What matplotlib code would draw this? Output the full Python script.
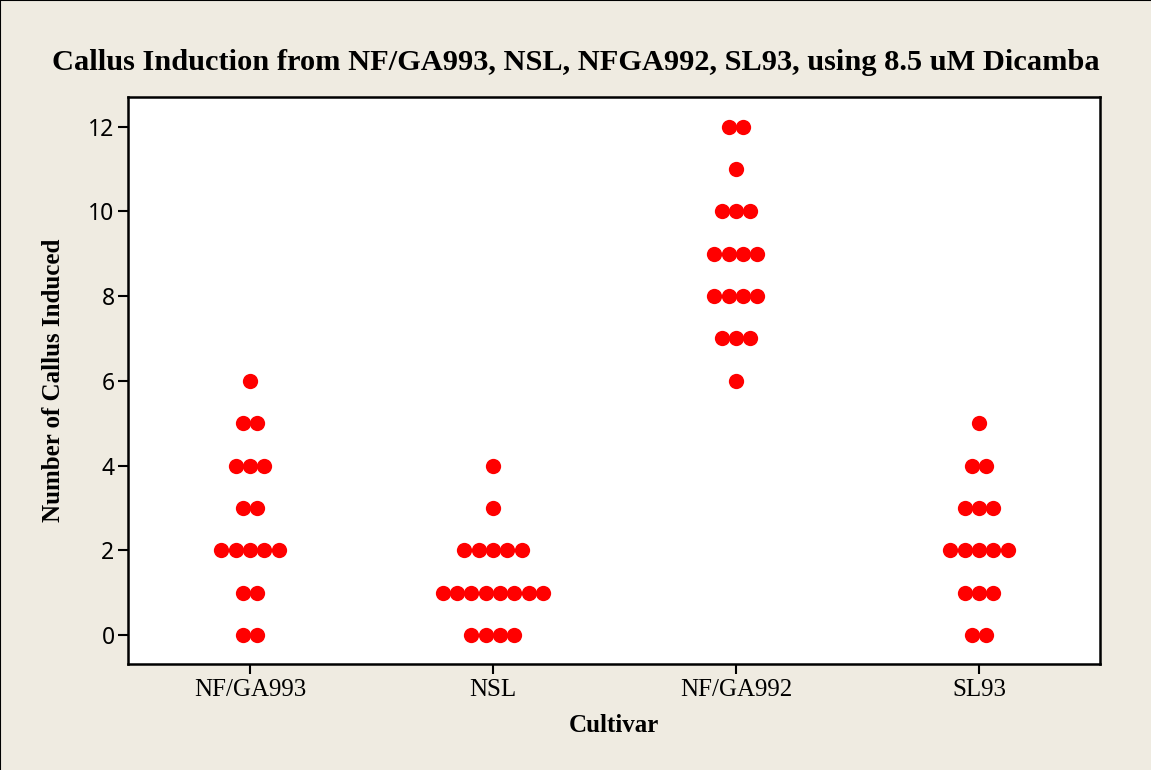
import matplotlib
matplotlib.use("Agg")
import matplotlib.pyplot as plt
import numpy as np
from collections import Counter

# ---- data ----
categories = ["NF/GA993", "NSL", "NF/GA992", "SL93"]
nfga993 = [0, 0, 1, 1, 2, 2, 2, 2, 2, 3, 3, 4, 4, 4, 5, 5, 6]
nsl = [0, 0, 0, 0, 1, 1, 1, 1, 1, 1, 1, 1, 2, 2, 2, 2, 2, 3, 4]
nfga992 = [6, 7, 7, 7, 8, 8, 8, 8, 9, 9, 9, 9, 10, 10, 10, 11, 12, 12]
sl93 = [0, 0, 1, 1, 1, 2, 2, 2, 2, 2, 3, 3, 3, 4, 4, 5]
yticks = [0, 2, 4, 6, 8, 10, 12]

title = "Callus Induction from NF/GA993, NSL, NFGA992, SL93, using 8.5 uM Dicamba"
xlabel = "Cultivar"
ylabel = "Number of Callus Induced"

bg = "#EFEBE1"
W, H = 1151, 770
fig = plt.figure(figsize=(W / 100, H / 100), dpi=100, facecolor=bg)
ax = fig.add_axes([127.7 / W, 1 - 664 / H, (1100 - 127.7) / W, (664 - 97) / H])
ax.set_facecolor("white")

spacing = 0.059  # horizontal stacking step in category units
groups = [nfga993, nsl, nfga992, sl93]
for i, vals in enumerate(groups):
    cnt = Counter(vals)
    for v, n in sorted(cnt.items()):
        offs = (np.arange(n) - (n - 1) / 2) * spacing
        ax.plot(i + offs, [v] * n, "o", color="#FF0000", markersize=11,
                markeredgewidth=0, zorder=3)

ax.set_xlim(-0.503, 3.498)
ax.set_ylim(-0.685, 12.70)
ax.set_xticks(range(len(categories)))
ax.set_xticklabels(categories, fontfamily="Liberation Serif", fontsize=18)
ax.set_yticks(yticks)
ax.set_yticklabels([str(t) for t in yticks], fontfamily="Noto Sans", fontsize=16.5)
ax.tick_params(axis="both", length=7.5, width=1.5, color="black", direction="out")
ax.tick_params(axis="y", pad=2)
ax.tick_params(axis="x", pad=3)
for s in ax.spines.values():
    s.set_linewidth(1.8)
    s.set_color("black")

ax.set_xlabel(xlabel, fontfamily="Liberation Serif", fontweight="bold", fontsize=18, labelpad=10)
ax.yaxis.set_label_coords(-(127.7 - 65) / (1100 - 127.7), 0.5)
ax.set_ylabel(ylabel, fontfamily="Liberation Serif", fontweight="bold", fontsize=18)

fig.text(0.5, 1 - 62 / H, title, ha="center", va="center",
         fontfamily="Liberation Serif", fontweight="bold", fontsize=21.9)

# figure border (top and left)
fig.add_artist(plt.Line2D([0, 0], [0, 1], transform=fig.transFigure, color="black", lw=1.5))
fig.add_artist(plt.Line2D([0, 1], [1, 1], transform=fig.transFigure, color="black", lw=1.5))

fig.savefig("out.png", dpi=100, facecolor=bg)
